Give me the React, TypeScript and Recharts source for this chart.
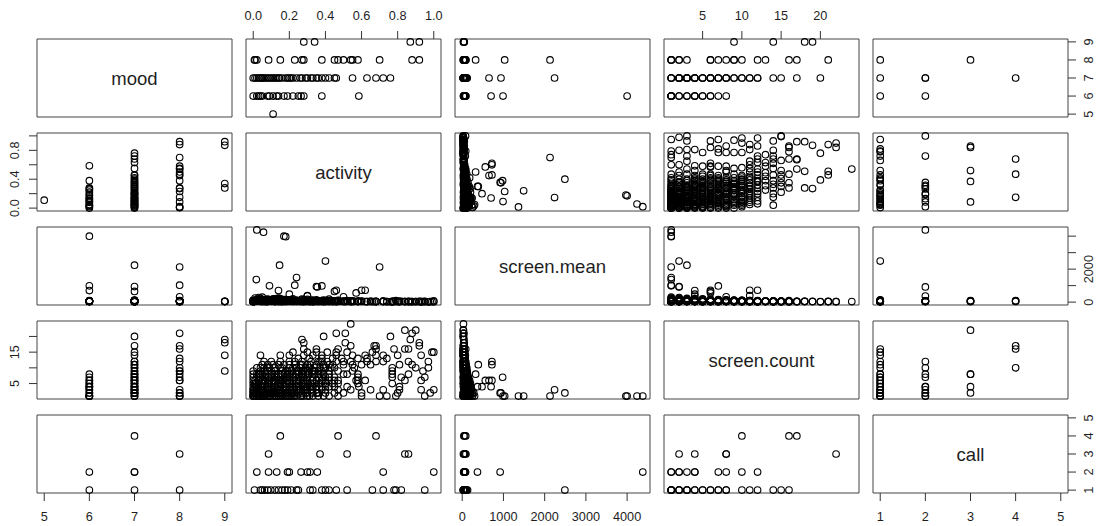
import React from 'react';
import { ScatterChart, Scatter, XAxis, YAxis, ReferenceArea } from 'recharts';

// ---------- variables ----------
const variableNames = ['mood', 'activity', 'screen.mean', 'screen.count', 'call'];
const variableKeys = ['mood', 'activity', 'screenMean', 'screenCount', 'call'];

// ---------- days with both mood and call ----------
const moodCallMood = [8, 8, 7, 7, 7, 7, 6, 6];
const moodCallActivity = [0.007, 0.085, 0.68, 0.05, 0.13, 0.2, 0.04, 0.265];
const moodCallScreenMean = [90, 70, 40, 60, 75, 50, 70, 55];
const moodCallScreenCount = [1, 2, 17, 3, 2, 4, 1, 1];
const moodCallCall = [1, 3, 4, 1, 2, 2, 1, 2];

// ---------- days with mood (no call) ----------
const moodMood = [
  9, 9, 9, 9,
  8, 8, 8, 8, 8, 8, 8, 8, 8, 8, 8, 8, 8, 8, 8, 8,
  7, 7, 7, 7, 7, 7, 7, 7, 7, 7, 7, 7, 7, 7, 7, 7, 7, 7, 7,
  7, 7, 7, 7, 7, 7, 7, 7, 7, 7, 7, 7, 7, 7, 7, 7, 7, 7, 7,
  6, 6, 6, 6, 6, 6, 6, 6, 6, 6, 6, 6, 6, 6, 6, 6,
  5,
];
const moodActivity = [
  0.87, 0.92, 0.28, 0.34,
  0.70, 0.23, 0.50, 0.01, 0.02, 0.15, 0.27, 0.38, 0.45, 0.54, 0.58, 0.28, 0.92, 0.88, 0.47, 0.55,
  0.146, 0.35, 0.45, 0.00, 0.03, 0.08, 0.02, 0.10, 0.18, 0.05, 0.24, 0.12, 0.30, 0.01, 0.16, 0.38, 0.07, 0.22,
  0.42, 0.14, 0.27, 0.04, 0.33, 0.19, 0.09, 0.40, 0.26, 0.55, 0.36, 0.63, 0.72, 0.46, 0.76, 0.29, 0.21, 0.11, 0.32, 0.06,
  0.17, 0.09, 0.14, 0.00, 0.02, 0.05, 0.08, 0.11, 0.13, 0.19, 0.22, 0.25, 0.28, 0.38, 0.585, 0.03,
  0.11,
];
const moodScreenMean: (number | null)[] = [
  35, 50, 45, 30,
  2130, 1030, 325, 60, 80, 45, 70, 55, 40, 35, 50, 40, 25, 30, 60, 80,
  2240, 940, 650, 50, 120, 30, 70, 90, 40, 60, 110, 35, 55, 80, 45, 65, 40, 75,
  30, 50, 60, 45, 35, 55, 70, 40, 50, 30, 45, 25, 30, 40, 20, 60, 80, 95, 50, 65,
  4000, 990, 700, 40, 60, 35, 80, 50, 45, 70, 30, 55, 40, 60, 50, 90,
  null,
];
const moodScreenCount: (number | null)[] = [
  19, 18, 14, 9,
  1, 1, 8, 2, 3, 6, 7, 9, 10, 12, 13, 16, 17, 21, 6, 9,
  3, 2, 6, 1, 1, 2, 2, 3, 3, 4, 4, 5, 5, 5, 6, 6, 7, 7,
  7, 8, 8, 8, 9, 9, 10, 10, 11, 11, 12, 12, 14, 15, 20, 3, 1, 2, 4, 6,
  1, 1, 4, 2, 3, 4, 5, 6, 7, 8, 2, 3, 5, 6, 4, 1,
  null,
];

// ---------- days with call (no mood) ----------
const callCall = [
  1, 1, 1, 1, 1, 1, 1, 1, 1, 1, 1, 1, 1, 1, 1, 1, 1, 1, 1, 1, 1, 1, 1, 1,
  2, 2, 2, 2, 2, 2, 2, 2,
  3, 3, 3, 3,
  4, 4,
];
const callActivity = [
  0.063, 0.08, 0.097, 0.12, 0.14, 0.16, 0.175, 0.19, 0.21, 0.24, 0.25, 0.315, 0.33, 0.38, 0.40, 0.42, 0.46, 0.52, 0.66, 0.72, 0.78, 0.79, 0.82, 0.95,
  0.02, 0.085, 0.19, 0.30, 0.315, 0.355, 0.72, 1.0,
  0.37, 0.52, 0.84, 0.86,
  0.15, 0.47,
];
const callScreenCount = [
  2, 5, 1, 4, 6, 3, 7, 8, 2, 10, 5, 11, 4, 12, 2, 6, 14, 8, 15, 3, 16, 1, 7, 1,
  1, 7, 8, 4, 10, 2, 12, 3,
  8, 4, 22, 8,
  10, 16,
];
const callScreenMean = [
  45, 80, 110, 60, 35, 90, 50, 70, 130, 40, 65, 30, 100, 45, 2490, 55, 35, 60, 30, 75, 25, 85, 40, 50,
  4380, 60, 40, 370, 50, 920, 35, 80,
  55, 90, 30, 45,
  60, 85,
];

// ---------- other days (activity + screen only) ----------
const otherScreenCount = [
  1, 1, 1, 1, 1, 1, 1, 1, 1, 1, 1, 1, 1, 1, 1, 1, 1, 1, 1, 1, 1, 1, 1, 1,
  2, 2, 2, 2, 2, 2, 2, 2, 2, 2, 2, 2, 2, 2, 2, 2, 2, 2, 2, 2,
  3, 3, 3, 3, 3, 3, 3, 3, 3, 3, 3, 3, 3, 3, 3, 3, 3, 3,
  4, 4, 4, 4, 4, 4, 4, 4, 4, 4, 4, 4, 4, 4, 4, 4,
  5, 5, 5, 5, 5, 5, 5, 5, 5, 5, 5, 5, 5, 5, 5, 5, 5, 5,
  6, 6, 6, 6, 6, 6, 6, 6, 6, 6, 6, 6, 6, 6, 6, 6,
  7, 7, 7, 7, 7, 7, 7, 7, 7, 7, 7, 7, 7, 7, 7, 7,
  8, 8, 8, 8, 8, 8, 8, 8, 8, 8, 8, 8, 8,
  9, 9, 9, 9, 9, 9, 9, 9, 9, 9, 9, 9, 9, 9,
  10, 10, 10, 10, 10, 10, 10, 10, 10, 10, 10, 10, 10, 10,
  11, 11, 11, 11, 11, 11, 11, 11, 11, 11, 11, 11, 11, 11,
  12, 12, 12, 12, 12, 12, 12, 12, 12, 12, 12,
  13, 13, 13, 13, 13, 13, 13,
  14, 14, 14, 14, 14, 14, 14, 14, 14, 14,
  15, 15, 15, 15, 15, 15, 15,
  16, 16, 16, 16,
  17, 17,
  18, 18,
  19,
  20,
  21, 21,
  22,
  24,
  1, 1, 1, 1, 1, 1, 1, 1, 1, 1,
  2, 2, 2, 2, 2, 2, 2, 2, 2, 2,
  3, 3, 3, 3, 3, 3, 3, 3, 3, 3,
  4, 4, 4, 4, 4, 4, 4, 4, 4,
  5, 5, 5, 5, 5, 5, 5, 5, 5,
  6, 6, 6, 6, 6, 6, 6, 6,
  7, 7, 7, 7, 7, 7, 7, 7,
  8, 8, 8, 8, 8, 8, 8, 8,
  9, 9, 9, 9, 9, 9,
  10, 10, 10, 10, 10, 10,
  11, 11, 11, 11,
  12, 12, 12,
];
const otherActivity = [
  0.057, 0.18, 0.017, 0.24, 0.60, 0.74, 0.47, 0.42, 0.36, 0.31, 0.28, 0.13, 0.11, 0.06, 0.01, 0.00, 0.15, 0.33, 0.39, 0.05, 0.08, 0.20, 0.00, 0.12,
  0.98, 0.80, 0.60, 0.45, 0.30, 0.27, 0.25, 0.18, 0.16, 0.14, 0.05, 0.04, 0.00, 0.03, 0.10, 0.12, 0.19, 0.07, 0.33, 0.50,
  0.93, 0.81, 0.65, 0.54, 0.47, 0.40, 0.35, 0.32, 0.22, 0.20, 0.13, 0.08, 0.00, 0.04, 0.11, 0.26, 0.07, 0.00,
  0.81, 0.20, 0.42, 0.38, 0.28, 0.22, 0.17, 0.10, 0.08, 0.00, 0.02, 0.35, 0.15, 0.26, 0.03, 0.45,
  0.77, 0.58, 0.47, 0.37, 0.34, 0.22, 0.20, 0.18, 0.15, 0.10, 0.05, 0.03, 0.00, 0.27, 0.32, 0.14, 0.06, 0.40,
  0.93, 0.84, 0.58, 0.57, 0.62, 0.33, 0.30, 0.26, 0.24, 0.20, 0.09, 0.03, 0.00, 0.19, 0.28, 0.12,
  0.95, 0.77, 0.58, 0.45, 0.38, 0.36, 0.33, 0.30, 0.25, 0.20, 0.15, 0.10, 0.04, 0.02, 0.18, 0.28,
  0.77, 0.58, 0.42, 0.34, 0.31, 0.24, 0.22, 0.10, 0.07, 0.02, 0.29, 0.16, 0.00,
  0.94, 0.77, 0.42, 0.36, 0.30, 0.27, 0.24, 0.21, 0.16, 0.12, 0.08, 0.04, 0.47, 0.28,
  0.97, 0.90, 0.77, 0.56, 0.37, 0.34, 0.29, 0.26, 0.20, 0.12, 0.06, 0.02, 0.43, 0.22,
  0.88, 0.81, 0.65, 0.60, 0.30, 0.50, 0.44, 0.39, 0.35, 0.20, 0.14, 0.08, 0.05, 0.23,
  0.97, 0.86, 0.46, 0.68, 0.50, 0.41, 0.32, 0.27, 0.20, 0.10, 0.06,
  0.74, 0.63, 0.49, 0.38, 0.25, 0.44, 0.31,
  0.93, 0.80, 0.62, 0.55, 0.38, 0.33, 0.20, 0.15, 0.04, 0.68,
  1.00, 0.99, 0.52, 0.41, 0.35, 0.30, 0.22,
  0.86, 0.68, 0.84, 0.35,
  0.54, 0.67,
  0.51, 0.28,
  0.27,
  0.39,
  0.46, 0.51,
  0.90,
  0.54,
  0.02, 0.04, 0.07, 0.09, 0.14, 0.16, 0.19, 0.22, 0.26, 0.30,
  0.01, 0.02, 0.06, 0.09, 0.11, 0.15, 0.21, 0.23, 0.29, 0.36,
  0.01, 0.03, 0.05, 0.09, 0.15, 0.17, 0.24, 0.28, 0.30, 0.38,
  0.01, 0.04, 0.06, 0.12, 0.18, 0.24, 0.31, 0.33, 0.40,
  0.01, 0.02, 0.08, 0.12, 0.16, 0.24, 0.29, 0.36, 0.44,
  0.01, 0.05, 0.07, 0.14, 0.17, 0.22, 0.35, 0.40,
  0.00, 0.06, 0.08, 0.12, 0.22, 0.26, 0.32, 0.40,
  0.03, 0.05, 0.12, 0.14, 0.20, 0.27, 0.36, 0.39,
  0.00, 0.06, 0.10, 0.18, 0.25, 0.33,
  0.04, 0.08, 0.16, 0.24, 0.31, 0.39,
  0.11, 0.17, 0.27, 0.42,
  0.15, 0.23, 0.37,
];
const otherScreenMean = [
  4240, 3970, 1365, 1490, 40, 25, 110, 180, 60, 90, 150, 210, 70, 130, 250, 20, 95, 45, 120, 300, 160, 55, 85, 35,
  30, 45, 60, 80, 120, 190, 70, 150, 40, 240, 100, 170, 55, 280, 90, 130, 65, 35, 110, 50,
  35, 50, 40, 75, 60, 95, 140, 110, 200, 65, 170, 80, 45, 230, 120, 55, 150, 90,
  30, 480, 55, 85, 120, 60, 160, 100, 190, 40, 140, 70, 210, 45, 90, 65,
  25, 40, 55, 70, 45, 130, 90, 60, 170, 110, 150, 80, 35, 100, 65, 200, 125, 50,
  30, 35, 50, 560, 720, 80, 60, 110, 45, 140, 95, 160, 70, 55, 120, 180,
  25, 40, 35, 60, 980, 75, 50, 95, 65, 120, 85, 140, 110, 150, 45, 70,
  30, 45, 55, 70, 40, 90, 60, 120, 100, 130, 80, 65, 110,
  25, 35, 50, 65, 45, 80, 55, 95, 70, 110, 60, 120, 40, 85,
  20, 30, 35, 45, 55, 70, 40, 85, 60, 100, 75, 110, 50, 65,
  25, 30, 40, 720, 390, 45, 55, 60, 70, 80, 65, 95, 85, 50,
  20, 30, 720, 35, 40, 55, 60, 45, 75, 85, 70,
  30, 35, 45, 55, 60, 40, 70,
  20, 25, 35, 40, 50, 45, 65, 60, 75, 30,
  20, 25, 40, 45, 55, 50, 60,
  25, 35, 30, 50,
  40, 30,
  35, 45,
  40,
  35,
  30, 40,
  25,
  30,
  65, 140, 45, 100, 75, 30, 115, 85, 50, 170,
  80, 120, 40, 60, 200, 95, 45, 75, 55, 35,
  70, 110, 60, 95, 40, 130, 80, 50, 65, 45,
  85, 50, 120, 70, 45, 95, 60, 40, 55,
  60, 95, 40, 75, 55, 85, 45, 70, 35,
  75, 50, 105, 65, 40, 85, 55, 45,
  90, 60, 45, 70, 55, 80, 40, 50,
  70, 85, 50, 60, 95, 45, 55, 40,
  80, 65, 50, 90, 45, 55,
  60, 85, 45, 70, 50, 40,
  60, 75, 45, 55,
  50, 65, 40,
];

// ---------- axis ticks ----------
const moodTicks = [5, 6, 7, 8, 9];
const activityTicks = [0, 0.2, 0.4, 0.6, 0.8, 1.0];
const screenMeanTicks = [0, 1000, 2000, 3000, 4000];
const screenCountTicks = [5, 10, 15, 20];
const callTicks = [1, 2, 3, 4, 5];
const activitySideLabels = ['0.0', '0.4', '0.8'];
const screenMeanSideLabels = ['0', '2000'];
const screenCountSideLabels = ['5', '15'];

// ---------- records ----------
type Rec = Record<string, number | null>;
const records: Rec[] = [
  ...moodCallMood.map((m, i) => ({
    mood: m, activity: moodCallActivity[i], screenMean: moodCallScreenMean[i],
    screenCount: moodCallScreenCount[i], call: moodCallCall[i],
  })),
  ...moodMood.map((m, i) => ({
    mood: m, activity: moodActivity[i], screenMean: moodScreenMean[i],
    screenCount: moodScreenCount[i], call: null,
  })),
  ...callCall.map((c, i) => ({
    mood: null, activity: callActivity[i], screenMean: callScreenMean[i],
    screenCount: callScreenCount[i], call: c,
  })),
  ...otherActivity.map((a, i) => ({
    mood: null, activity: a, screenMean: otherScreenMean[i],
    screenCount: otherScreenCount[i], call: null,
  })),
];

// ---------- layout ----------
const PANEL_LEFT = [37, 246, 455, 664, 873];
const PANEL_TOP = [39, 133, 227, 321, 415];
const PW = 195;
const PH = 78;
const AX = 33;
const PAD = 16;
const FONT = "'Liberation Sans', Arial, Helvetica, sans-serif";

// R pads each range by 4%
const DOMAINS: [number, number][] = [
  [4.84, 9.16],
  [-0.04, 1.04],
  [-175, 4555],
  [0.08, 24.92],
  [0.84, 5.16],
];
const TICKS = [moodTicks, activityTicks, screenMeanTicks, screenCountTicks, callTicks];

function fmtMain(v: number, varIdx: number): string {
  if (varIdx === 1) return v.toFixed(1);
  return String(v);
}
function fmtSide(v: number, varIdx: number): string {
  const s = fmtMain(v, varIdx);
  if (varIdx === 1) return activitySideLabels.includes(s) ? s : '';
  if (varIdx === 2) return screenMeanSideLabels.includes(s) ? s : '';
  if (varIdx === 3) return screenCountSideLabels.includes(s) ? s : '';
  return s;
}

function makeTick(vertical: boolean, fmt: (v: number) => string) {
  return (props: any) => {
    const { x, y, payload } = props;
    const label = fmt(payload.value);
    if (!label) return <g />;
    return (
      <text
        x={x}
        y={y}
        transform={vertical ? `rotate(-90 ${x} ${y})` : undefined}
        textAnchor="middle"
        dominantBaseline="central"
        fontSize={12.7}
        fontFamily={FONT}
        fill="#1e1e1e"
      >
        {label}
      </text>
    );
  };
}

const Ring = (props: any) => {
  if (props.cx == null || props.cy == null) return <g />;
  return <circle cx={props.cx} cy={props.cy} r={3.3} fill="none" stroke="#000" strokeWidth={1.1} />;
};
const NoMark = () => <g />;

function Panel({ i, j }: { i: number; j: number }) {
  const showTop = i === 0 && (j === 1 || j === 3);
  const showBottom = i === 4 && (j === 0 || j === 2 || j === 4);
  const showLeft = j === 0 && (i === 1 || i === 3);
  const showRight = j === 4 && (i === 0 || i === 2 || i === 4);
  const diag = i === j;
  const xKey = variableKeys[j];
  const yKey = variableKeys[i];
  const data = records
    .filter((r) => r[xKey] != null && r[yKey] != null)
    .map((r) => ({ x: r[xKey] as number, y: r[yKey] as number }));
  const w = PW + (showLeft ? AX : 0) + (showRight ? AX : 0) + 2 * PAD;
  const h = PH + (showTop ? AX : 0) + (showBottom ? AX : 0) + 2 * PAD;
  const xd = DOMAINS[j];
  const yd = DOMAINS[i];
  return (
    <div
      style={{
        position: 'absolute',
        left: PANEL_LEFT[j] - (showLeft ? AX : 0) - PAD,
        top: PANEL_TOP[i] - (showTop ? AX : 0) - PAD,
        width: w,
        height: h,
      }}
    >
      <ScatterChart width={w} height={h} margin={{ top: PAD, right: PAD, bottom: PAD, left: PAD }}>
        <XAxis
          type="number"
          dataKey="x"
          domain={xd}
          ticks={TICKS[j]}
          interval={0}
          hide={!(showTop || showBottom)}
          orientation={showTop ? 'top' : 'bottom'}
          height={AX}
          axisLine={false}
          tickLine={{ stroke: '#333' }}
          tickSize={8}
          tickMargin={showTop ? 15 : 16}
          tick={makeTick(false, (v) => fmtMain(v, j))}
        />
        <YAxis
          type="number"
          dataKey="y"
          domain={yd}
          ticks={TICKS[i]}
          interval={0}
          hide={!(showLeft || showRight)}
          orientation={showRight ? 'right' : 'left'}
          width={AX}
          axisLine={false}
          tickLine={{ stroke: '#333' }}
          tickSize={8}
          tickMargin={showRight ? 13 : 14}
          tick={makeTick(true, (v) => fmtSide(v, i))}
        />
        <ReferenceArea
          x1={xd[0]}
          x2={xd[1]}
          y1={yd[0]}
          y2={yd[1]}
          fill="none"
          fillOpacity={0}
          stroke="#444"
          strokeWidth={1}
          ifOverflow="visible"
          label={
            diag
              ? { value: variableNames[i], position: 'center', fontSize: 18.5, fill: '#1e1e1e', fontFamily: FONT }
              : undefined
          }
        />
        <Scatter data={data} shape={diag ? NoMark : Ring} isAnimationActive={false} />
      </ScatterChart>
    </div>
  );
}

export default function App() {
  const cells: React.ReactNode[] = [];
  for (let i = 0; i < 5; i++) {
    for (let j = 0; j < 5; j++) {
      cells.push(<Panel key={`${i}-${j}`} i={i} j={j} />);
    }
  }
  return (
    <div
      style={{
        position: 'absolute',
        left: 0,
        top: 0,
        width: 1104,
        height: 526,
        background: '#fff',
        fontFamily: FONT,
        overflow: 'hidden',
      }}
    >
      {cells}
    </div>
  );
}
